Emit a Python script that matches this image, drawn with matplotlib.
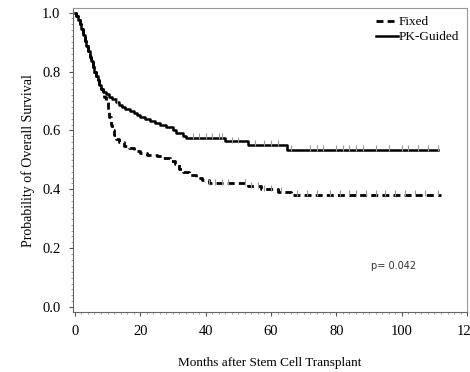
import matplotlib.pyplot as plt
import numpy as np

# Kaplan-Meier curves
t_fixed = [0, 0.5, 1, 1.5, 2, 2.5, 3, 3.5, 4, 4.5, 5, 5.5, 6, 6.5, 7, 7.5, 8, 8.5,
           9, 9.5, 10, 10.5, 11, 11.5, 12, 12.5, 13.5, 15, 16.5, 18, 20, 22, 25,
           27, 29, 30.5, 32, 33, 35, 37, 39, 41, 53, 57, 62, 66, 112]
s_fixed = [1.0, 0.99, 0.975, 0.96, 0.945, 0.925, 0.905, 0.888, 0.87, 0.85, 0.835,
           0.815, 0.80, 0.785, 0.77, 0.755, 0.74, 0.73, 0.715, 0.695, 0.67, 0.645,
           0.62, 0.60, 0.585, 0.572, 0.56, 0.548, 0.54, 0.53, 0.522, 0.517, 0.512,
           0.505, 0.495, 0.485, 0.47, 0.46, 0.45, 0.44, 0.43, 0.42, 0.41, 0.40,
           0.39, 0.38, 0.38]

t_pk = [0, 0.5, 1, 1.5, 2, 2.5, 3, 3.5, 4, 4.5, 5, 5.5, 6, 6.5, 7, 7.5, 8, 8.5,
        9.5, 10.5, 11.5, 12.5, 13.5, 14.5, 15.5, 17, 18, 19, 20, 21.5, 23, 24.5,
        26, 28, 30, 31, 33, 34, 46, 53, 65, 111]
s_pk = [1.0, 0.99, 0.975, 0.96, 0.945, 0.925, 0.905, 0.888, 0.87, 0.85, 0.835,
        0.815, 0.80, 0.785, 0.77, 0.755, 0.74, 0.73, 0.722, 0.712, 0.705, 0.695,
        0.687, 0.68, 0.674, 0.667, 0.66, 0.653, 0.647, 0.64, 0.632, 0.625, 0.617,
        0.61, 0.60, 0.59, 0.58, 0.575, 0.563, 0.55, 0.535, 0.535]

# censoring times
c_pk = [13, 36, 38, 40, 42, 44, 45, 48, 50, 55, 58, 60, 62, 66, 72, 74, 76, 80,
        82, 84, 86, 88, 92, 96, 100, 102, 105, 108, 111]
c_fixed = [41, 43, 45, 47, 52, 54, 56, 58, 60, 63, 68, 71, 74, 78, 81, 84, 86,
           89, 92, 95, 98, 101, 104, 107, 111]

xticks = [0, 20, 40, 60, 80, 100, 120]
yticks = [0.0, 0.2, 0.4, 0.6, 0.8, 1.0]


def surv_at(times, t, s):
    idx = np.searchsorted(t, times, side='right') - 1
    return np.array(s)[idx]


plt.rcParams['font.family'] = ['Liberation Serif', 'DejaVu Serif']

fig = plt.figure(figsize=(4.7, 3.72), dpi=100)
ax = fig.add_axes([0.155, 0.161, 0.839, 0.817])

ax.plot(t_fixed, s_fixed, drawstyle='steps-post', color='black', lw=2,
        linestyle=(0, (2.5, 1.5)), label='Fixed')
ax.plot(t_pk, s_pk, drawstyle='steps-post', color='black', lw=1.8,
        label='PK-Guided')

# censor marks
ax.plot(c_pk, surv_at(c_pk, t_pk, s_pk) + 0.006, linestyle='none', marker='|',
        ms=4, mew=0.8, color='#999999')
ax.plot(c_fixed, surv_at(c_fixed, t_fixed, s_fixed) + 0.006, linestyle='none',
        marker='|', ms=4, mew=0.8, color='#999999')

ax.set_xlim(-0.6, 120)
ax.set_ylim(-0.017, 1.015)
ax.set_xticks(xticks)
ax.set_yticks(yticks)
ax.set_yticklabels(['%.1f' % v for v in yticks])
ax.set_xticks(np.arange(0, 121, 2), minor=True)
ax.set_yticks(np.arange(0, 1.01, 0.02), minor=True)
ax.tick_params(which='major', length=3, labelsize=10.5, color='#555555', pad=6)
ax.tick_params(which='minor', length=1.5, color='#888888')

for side in ['top', 'right']:
    ax.spines[side].set_color('#999999')
for side in ['left', 'bottom']:
    ax.spines[side].set_color('#666666')

ax.set_xlabel('Months after Stem Cell Transplant', fontsize=9.5, labelpad=14)
ax.set_ylabel('Probability of Overall Survival', fontsize=10, labelpad=5)

ax.text(97.5, 0.14, 'p= 0.042', fontsize=7, family='DejaVu Sans', ha='center',
        va='center', color='#333333')

ax.legend(loc='upper right', frameon=False, fontsize=9.5, handlelength=1.6,
          handletextpad=0.1, borderaxespad=0.2, labelspacing=0.2)

fig.savefig('out.png', dpi=100)
